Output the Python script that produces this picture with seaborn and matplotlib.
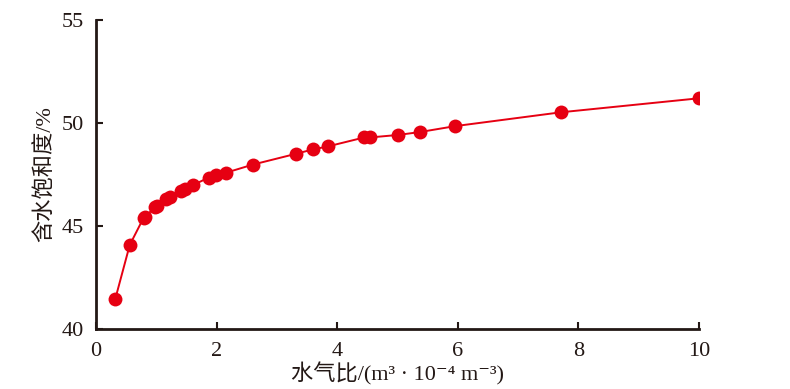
import numpy as np
import pandas as pd
import seaborn as sns
from matplotlib import pyplot as plt

# water-gas ratio vs water saturation
water_gas_ratio = [0.32, 0.56, 0.79, 0.81, 0.98, 1.01, 1.16, 1.22, 1.41, 1.48, 1.61,
                   1.87, 1.99, 2.16, 2.60, 3.31, 3.60, 3.84, 4.45, 4.55, 5.01, 5.37,
                   5.96, 7.71, 10.0]
saturation = [41.46, 44.08, 45.40, 45.45, 45.90, 45.97, 46.33, 46.42, 46.70, 46.80, 46.99,
              47.35, 47.46, 47.59, 47.98, 48.50, 48.72, 48.86, 49.30, 49.30, 49.42, 49.56,
              49.85, 50.52, 51.20]
xticks = [0, 2, 4, 6, 8, 10]
yticks = [40, 45, 50, 55]

df = pd.DataFrame({'ratio': water_gas_ratio, 'sat': saturation})

sns.set_style('ticks')
plt.rcParams['font.family'] = ['Liberation Serif', 'Noto Sans CJK SC', 'DejaVu Serif']

fig = plt.figure(figsize=(7.9, 3.89), dpi=100)
ax = fig.add_axes([0.1215, 0.1542, 0.7633, 0.7944])

sns.lineplot(data=df, x='ratio', y='sat', ax=ax, color='#e60012', lw=1.4,
             marker='o', markersize=10, markeredgewidth=0, zorder=3)

ax.set_xlim(0, 10)
ax.set_ylim(40, 55)
ax.set_xticks(xticks)
ax.set_yticks(yticks)
ax.tick_params(direction='in', length=5, width=1.5, labelsize=16, colors='#231815')
ax.tick_params(axis='x', pad=9)
ax.tick_params(axis='y', pad=9)
for s in ['top', 'right']:
    ax.spines[s].set_visible(False)
for s in ['left', 'bottom']:
    ax.spines[s].set_linewidth(2)
    ax.spines[s].set_color('#231815')

ax.set_xlabel('水气比/(m³ · 10⁻⁴ m⁻³)', fontsize=16, labelpad=1, color='#231815',
              fontweight='light')
ax.set_ylabel('含水饱和度/%', fontsize=16, labelpad=4, color='#231815',
              fontweight='light')

fig.savefig('out.png', dpi=100)
